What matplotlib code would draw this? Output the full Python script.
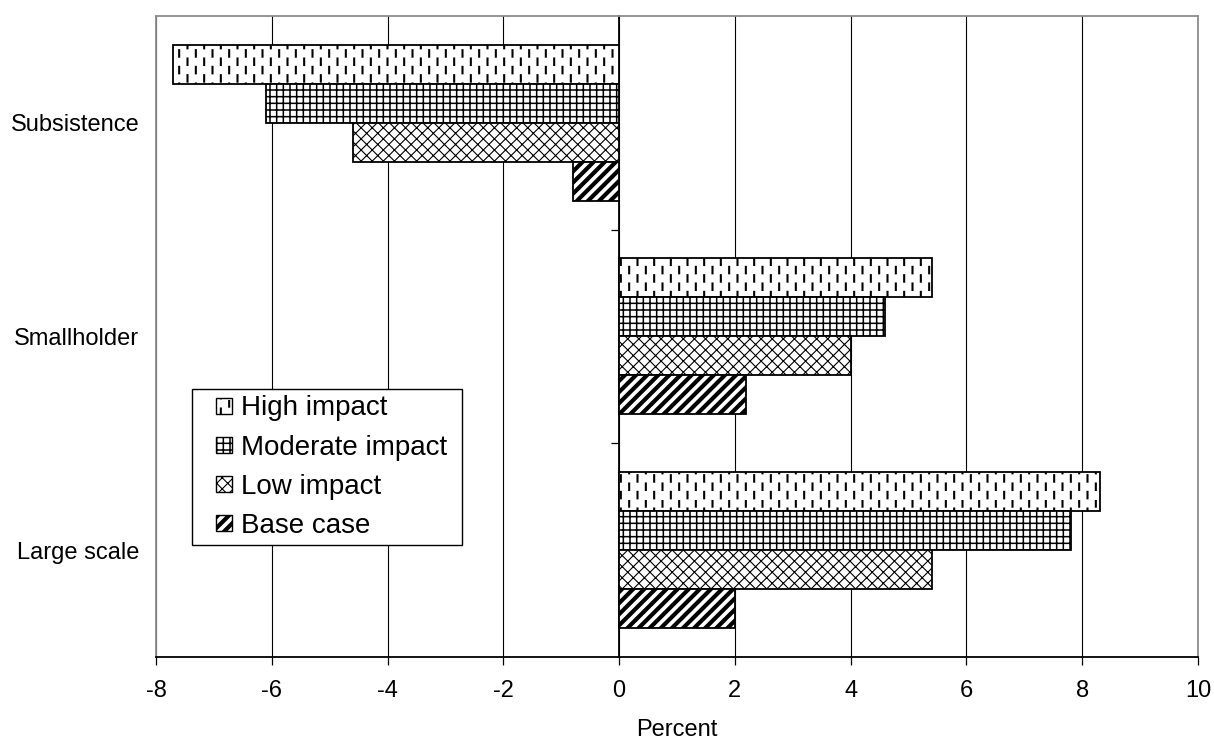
"""Wykres słupkowy: zmiana dochodu (%) dla typów gospodarstw w scenariuszach wpływu."""

from __future__ import annotations

import matplotlib

matplotlib.use("Agg")

import matplotlib.pyplot as plt
import numpy as np
from matplotlib import hatch as mhatch
from matplotlib.container import BarContainer
from matplotlib.legend_handler import HandlerPatch
from matplotlib.patches import Rectangle
from matplotlib.path import Path as MPath

# Dane (od dołu osi do góry).
categories = ["Large scale", "Smallholder", "Subsistence"]
high_impact = [8.3, 5.4, -7.7]
moderate_impact = [7.8, 4.6, -6.1]
low_impact = [5.4, 4.0, -4.6]
base_case = [2.0, 2.2, -0.8]

series_labels = ["High impact", "Moderate impact", "Low impact", "Base case"]
x_ticks = [-8, -6, -4, -2, 0, 2, 4, 6, 8, 10]


class ExcelHatch(mhatch.HatchPatternBase):
    """Kreskowanie w stylu Excela; jeden kafel to 1 cal (100 px przy dpi=100)."""

    def __init__(self, hatch, density):
        segs = []
        if "." in hatch:
            # krótkie pionowe kreski, co druga kolumna przesunięta o pół okresu
            ncols, nrows, dash = 12, 6, 0.065
            for j in range(ncols):
                x = (j + 0.5) / ncols
                for r in range(nrows):
                    y0 = (r + 0.5 * (j % 2) + 0.1) / nrows
                    segs.append(((x, y0), (x, y0 + dash)))
        if "+" in hatch:
            n = 15
            for i in range(n):
                t = (i + 0.5) / n
                segs.append(((t, 0.0), (t, 1.0)))
                segs.append(((0.0, t), (1.0, t)))
        if "/" in hatch or "x" in hatch:
            n = 9
            for i in range(-n, n + 1):
                c = i / n
                segs.append(((c, 0.0), (c + 1.0, 1.0)))
        if "x" in hatch:
            n = 9
            for i in range(-n, n + 1):
                c = i / n
                segs.append(((c, 1.0), (c + 1.0, 0.0)))
        self.segments = segs
        self.num_vertices = 2 * len(segs)

    def set_vertices_and_codes(self, vertices, codes):
        for i, (p0, p1) in enumerate(self.segments):
            vertices[2 * i] = p0
            vertices[2 * i + 1] = p1
            codes[2 * i] = MPath.MOVETO
            codes[2 * i + 1] = MPath.LINETO


mhatch._hatch_types[:] = [ExcelHatch]


def legend_square(legend, orig_handle, xdescent, ydescent, width, height, fontsize):
    # kwadracik przy prawej krawędzi pola uchwytu (jak w legendzie Excela)
    side = 0.58 * fontsize
    return Rectangle((-xdescent + width - side, -ydescent + (height - side) / 2), side, side)


def copy_bar_style(legend_handle, orig_handle):
    first = orig_handle[0]
    legend_handle.update_from(first)
    legend_handle.set_linewidth(1.0)
    # grubość kreskowania nie zawsze jest kopiowana
    legend_handle._hatch_linewidth = first._hatch_linewidth


def main():
    plt.rcParams["font.family"] = ["Liberation Sans", "DejaVu Sans"]
    plt.rcParams["axes.unicode_minus"] = False

    fig = plt.figure(figsize=(12.14, 7.40), dpi=100)
    ax = fig.add_axes([0.1285, 0.1122, 0.8583, 0.8662])

    y = np.arange(len(categories))
    h = 0.1825
    series = [high_impact, moderate_impact, low_impact, base_case]
    hatches = [".", "+", "x", "/"]
    hatch_widths = [1.5, 1.1, 0.8, 3.0]
    offsets = [1.5, 0.5, -0.5, -1.5]

    for values, label, hatch, hw, off in zip(series, series_labels, hatches, hatch_widths, offsets):
        with plt.rc_context({"hatch.linewidth": hw, "hatch.color": "black"}):
            ax.barh(y + off * h, values, height=h, color="white", edgecolor="black",
                    linewidth=1.3, hatch=hatch, label=label, zorder=3)

    ax.set_xlim(-8, 10)
    ax.set_ylim(-0.5, len(categories) - 0.5)
    ax.set_xticks(x_ticks)
    ax.set_xticklabels([str(t) for t in x_ticks])
    ax.set_yticks(y)
    ax.set_yticklabels(categories)

    ax.grid(axis="x", color="black", linewidth=0.8)
    ax.set_axisbelow(True)

    for side in ["top", "right", "left"]:
        ax.spines[side].set_color("#8c8c8c")
        ax.spines[side].set_linewidth(1.3)
    ax.spines["bottom"].set_color("black")
    ax.spines["bottom"].set_linewidth(1.3)

    ax.tick_params(axis="x", direction="out", length=6, width=0.9, pad=10.5, labelsize=17)
    ax.tick_params(axis="y", length=0, pad=12, labelsize=17)
    ax.set_xlabel("Percent", fontsize=17, labelpad=12)

    # oś kategorii przecina oś wartości w zerze
    x0, x1 = ax.get_xlim()
    sec = ax.secondary_yaxis((0 - x0) / (x1 - x0))
    sec.set_yticks([0.5, 1.5])
    sec.tick_params(axis="y", direction="out", length=6, width=0.9, labelleft=False, labelright=False)
    for sp in sec.spines.values():
        sp.set_color("black")
        sp.set_linewidth(1.3)

    handler = HandlerPatch(patch_func=legend_square, update_func=copy_bar_style)
    leg = ax.legend(loc="upper left", bbox_to_anchor=(0.0345, 0.175, 0.259, 0.243), mode="expand",
                    borderaxespad=0, fontsize=20, frameon=True, fancybox=False, framealpha=1,
                    edgecolor="black", handlelength=1.22, handleheight=0.58,
                    handletextpad=0.3, labelspacing=0.475, borderpad=0.23,
                    handler_map={BarContainer: handler})
    leg.get_frame().set_linewidth(1.0)

    fig.savefig("out.png", dpi=100)
    plt.close(fig)


if __name__ == "__main__":
    main()
